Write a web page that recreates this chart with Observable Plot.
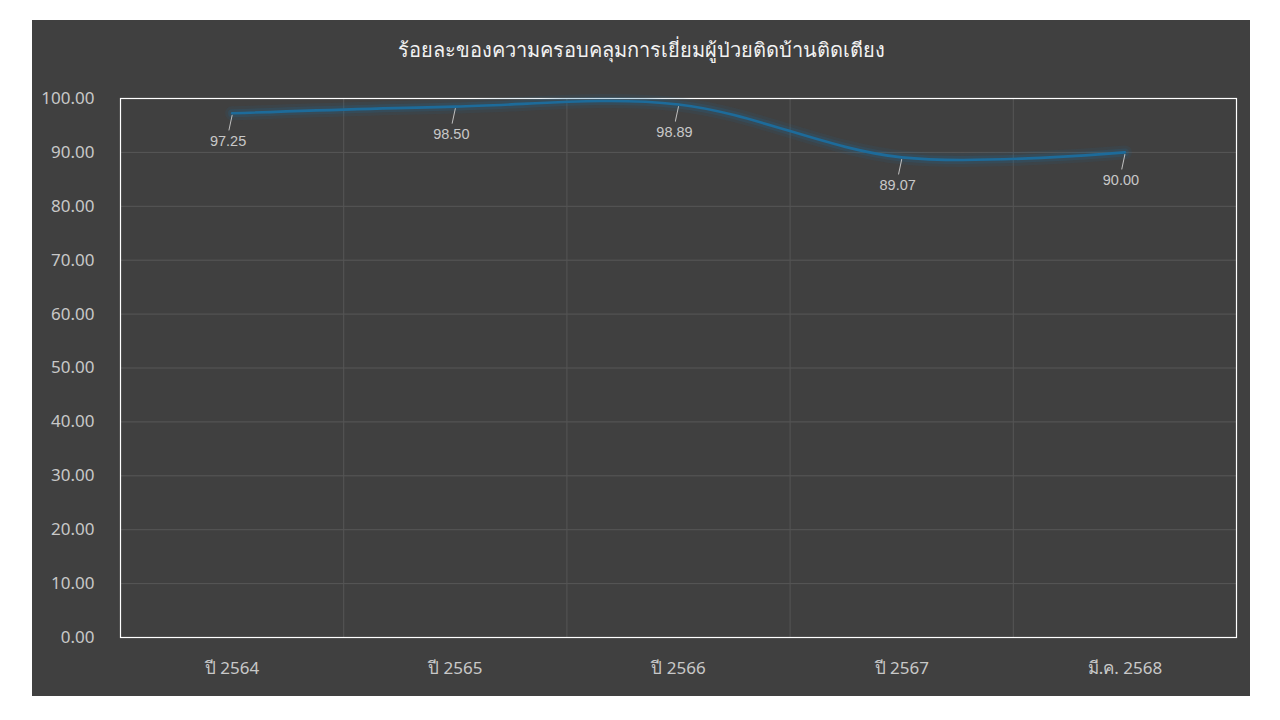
<!DOCTYPE html>
<html>
<head>
<meta charset="utf-8">
<script src="https://cdn.jsdelivr.net/npm/d3@7"></script>
<script src="https://cdn.jsdelivr.net/npm/@observablehq/plot@0.6"></script>
<style>
  html, body { margin: 0; padding: 0; background: #ffffff; width: 1280px; height: 720px; overflow: hidden; }
  #panel { position: absolute; left: 32px; top: 20px; width: 1218px; height: 676px; background: #404040; }
  #title { height: 58px; line-height: 60px; text-align: center; color: #f2f2f2; font-family: "Noto Sans", "DejaVu Sans", sans-serif; font-size: 20px; }
  #chart svg { display: block; }
</style>
</head>
<body>
<div id="panel">
  <div id="title">ร้อยละของความครอบคลุมการเยี่ยมผู้ป่วยติดบ้านติดเตียง</div>
  <div id="chart"></div>
</div>
<script>
const categories = ["ปี 2564", "ปี 2565", "ปี 2566", "ปี 2567", "มี.ค. 2568"];
const values = [97.25, 98.50, 98.89, 89.07, 90.00];
const yTicks = [0, 10, 20, 30, 40, 50, 60, 70, 80, 90, 100];

const data = categories.map((c, i) => ({i, c, v: values[i]}));
const bandEdges = categories.slice(1).map((_, i) => i + 0.5);

const leader = {
  draw(context, l) { context.moveTo(0, 0); context.lineTo(0, -l); }
};

const chart = Plot.plot({
  width: 1218,
  height: 618,
  marginLeft: 88,
  marginRight: 14,
  marginTop: 20,
  marginBottom: 59,
  style: {background: "transparent", color: "#c0c0c0", fontFamily: "'Noto Sans', 'DejaVu Sans', sans-serif"},
  x: {type: "linear", domain: [-0.5, categories.length - 0.5], label: null},
  y: {domain: [0, 100], label: null},
  marks: [
    Plot.ruleY(yTicks, {stroke: "#575757", strokeWidth: 1}),
    Plot.ruleX(bandEdges, {stroke: "#555555", strokeWidth: 1}),
    Plot.frame({stroke: "#ffffff", strokeWidth: 1.2}),
    Plot.axisY({ticks: yTicks, tickSize: 0, tickPadding: 26, tickFormat: d => d.toFixed(2), fontSize: 17, fill: "#c8c8c8", label: null}),
    Plot.axisX({ticks: categories.map((_, i) => i), tickSize: 0, tickPadding: 24, tickFormat: i => categories[i], fontSize: 17, fill: "#c8c8c8", label: null}),
    Plot.line(data, {x: "i", y: "v", curve: "catmull-rom", stroke: "#1e6fa0", strokeWidth: 14, strokeOpacity: 0.10}),
    Plot.line(data, {x: "i", y: "v", curve: "catmull-rom", stroke: "#1e6fa0", strokeWidth: 8, strokeOpacity: 0.18}),
    Plot.line(data, {x: "i", y: "v", curve: "catmull-rom", stroke: "#1d6b9a", strokeWidth: 2.6}),
    Plot.vector(data, {x: "i", y: "v", length: 15, rotate: 192, anchor: "start", shape: leader, stroke: "#bfbfbf", strokeWidth: 1, dy: 2}),
    Plot.text(data, {x: "i", y: "v", text: d => d.v.toFixed(2), dy: 28, dx: -4, fill: "#c8c8c8", fontSize: 14.5, fontFamily: "'Liberation Sans', Arial, sans-serif"})
  ]
});
document.getElementById("chart").appendChild(chart);
</script>
</body>
</html>
